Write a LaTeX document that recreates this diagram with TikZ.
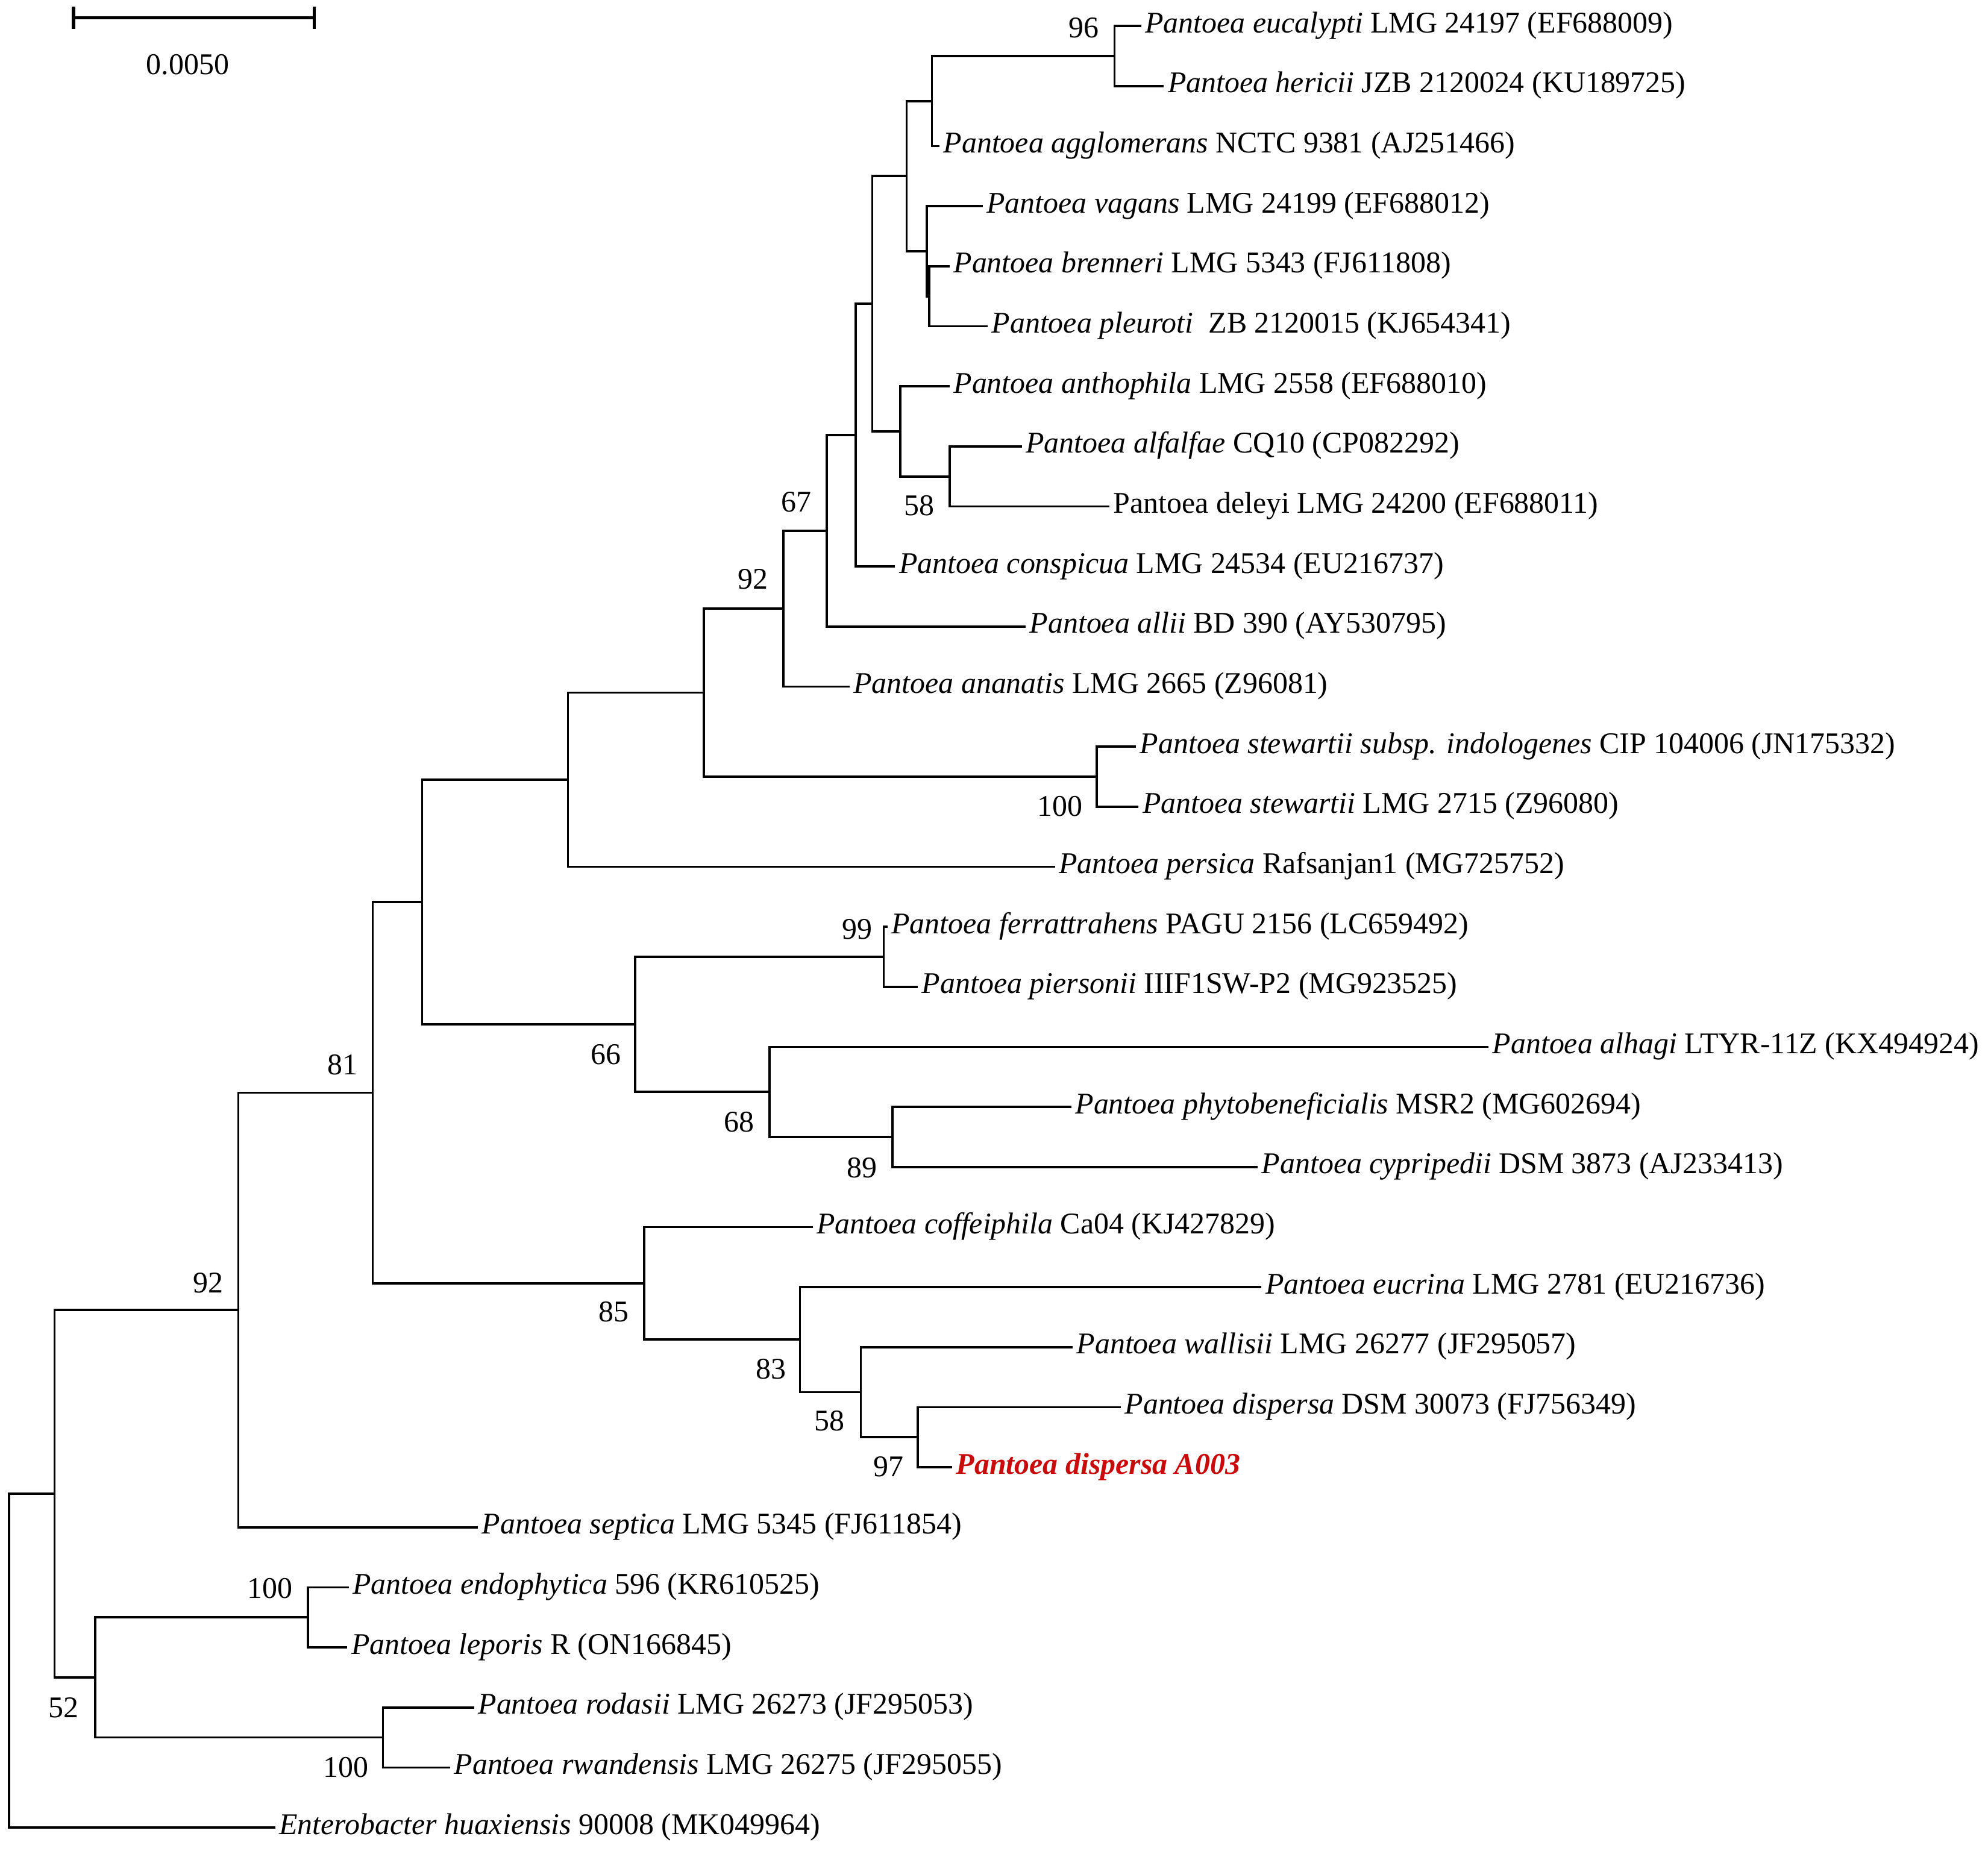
\documentclass[tikz,border=0pt]{standalone}
\usepackage{fontspec}
\setmainfont{Liberation Serif}
\usepackage{xcolor}
\usepackage{tikz}
\usetikzlibrary{positioning}
\definecolor{isolatered}{RGB}{200,12,12}

\begin{document}
\begin{tikzpicture}[x=0.02cm, y=-0.02cm, every node/.style={font=\fontsize{13.5}{16}\selectfont}]
\tikzset{
  leaf/.style={anchor=west, inner xsep=1.6pt, inner ysep=0pt, text height=9pt, text depth=3pt},
  boot/.style={inner sep=0pt, anchor=center},
  branch/.style={line width=1pt, line join=miter},
  scalebar/.style={line width=1.4pt}
}
\useasboundingbox (0,0) rectangle (1568,1460);

\coordinate (sbL) at (58,14);
\coordinate (sbR) at (248,14);
\draw [scalebar] (sbL) -- (sbR);
\draw [scalebar] ([yshift=5pt]sbL) -- ([yshift=-5pt]sbL);
\draw [scalebar] ([yshift=5pt]sbR) -- ([yshift=-5pt]sbR);
\node (sblabel) [boot] at (148,51) {0.0050};

\node (eucalypti) [leaf] at (900,20.5) {\textit{Pantoea eucalypti} LMG 24197 (EF688009)};
\node (hericii) [leaf] at (918,67.9) {\textit{Pantoea hericii} JZB 2120024 (KU189725)};
\node (agglomerans) [leaf] at (741,115.2) {\textit{Pantoea agglomerans} NCTC 9381 (AJ251466)};
\node (vagans) [leaf] at (775,162.6) {\textit{Pantoea vagans} LMG 24199 (EF688012)};
\node (brenneri) [leaf] at (749,210.0) {\textit{Pantoea brenneri} LMG 5343 (FJ611808)};
\node (pleuroti) [leaf] at (779,257.4) {\textit{Pantoea pleuroti}\ \ ZB 2120015 (KJ654341)};
\node (anthophila) [leaf] at (749,304.7) {\textit{Pantoea anthophila} LMG 2558 (EF688010)};
\node (alfalfae) [leaf] at (806,352.1) {\textit{Pantoea alfalfae} CQ10 (CP082292)};
\node (deleyi) [leaf] at (875,399.5) {Pantoea deleyi LMG 24200 (EF688011)};
\node (conspicua) [leaf] at (706,446.8) {\textit{Pantoea conspicua} LMG 24534 (EU216737)};
\node (allii) [leaf] at (809,494.2) {\textit{Pantoea allii} BD 390 (AY530795)};
\node (ananatis) [leaf] at (670,541.6) {\textit{Pantoea ananatis} LMG 2665 (Z96081)};
\node (indologenes) [leaf] at (896,588.9) {\textit{Pantoea stewartii subsp. indologenes} CIP 104006 (JN175332)};
\node (stewartii) [leaf] at (898,636.3) {\textit{Pantoea stewartii} LMG 2715 (Z96080)};
\node (persica) [leaf] at (832,683.7) {\textit{Pantoea persica} Rafsanjan1 (MG725752)};
\node (ferrattrahens) [leaf] at (700,731.1) {\textit{Pantoea ferrattrahens} PAGU 2156 (LC659492)};
\node (piersonii) [leaf] at (724,778.4) {\textit{Pantoea piersonii} IIIF1SW-P2 (MG923525)};
\node (alhagi) [leaf] at (1174,825.8) {\textit{Pantoea alhagi} LTYR-11Z (KX494924)};
\node (phytobeneficialis) [leaf] at (845,873.2) {\textit{Pantoea phytobeneficialis} MSR2 (MG602694)};
\node (cypripedii) [leaf] at (992,920.5) {\textit{Pantoea cypripedii} DSM 3873 (AJ233413)};
\node (coffeiphila) [leaf] at (641,967.9) {\textit{Pantoea coffeiphila} Ca04 (KJ427829)};
\node (eucrina) [leaf] at (995,1015.3) {\textit{Pantoea eucrina} LMG 2781 (EU216736)};
\node (wallisii) [leaf] at (846,1062.6) {\textit{Pantoea wallisii} LMG 26277 (JF295057)};
\node (dispersa) [leaf] at (884,1110.0) {\textit{Pantoea dispersa} DSM 30073 (FJ756349)};
\node (isolate) [leaf, text=isolatered] at (751,1157.4) {\textbf{\textit{Pantoea dispersa A003}}};
\node (septica) [leaf] at (377,1204.8) {\textit{Pantoea septica} LMG 5345 (FJ611854)};
\node (endophytica) [leaf] at (275,1252.1) {\textit{Pantoea endophytica} 596 (KR610525)};
\node (leporis) [leaf] at (274,1299.5) {\textit{Pantoea leporis} R (ON166845)};
\node (rodasii) [leaf] at (374,1346.9) {\textit{Pantoea rodasii} LMG 26273 (JF295053)};
\node (rwandensis) [leaf] at (355,1394.2) {\textit{Pantoea rwandensis} LMG 26275 (JF295055)};
\node (huaxiensis) [leaf] at (217,1441.6) {\textit{Enterobacter huaxiensis} 90008 (MK049964)};

\coordinate (eucHer) at (879,44.2);
\coordinate (aggloGrp) at (735,79.7);
\coordinate (brePle) at (733,233.7);
\coordinate (vagGrp) at (731,198.15);
\coordinate (aggloClade) at (715,138.9);
\coordinate (alfDel) at (749,375.8);
\coordinate (anthoGrp) at (710,340.25);
\coordinate (upper) at (688,239.6);
\coordinate (conspGrp) at (675,343.2);
\coordinate (alliiGrp) at (652,418.7);
\coordinate (ananGrp) at (618,480.15);
\coordinate (stewGrp) at (865,612.6);
\coordinate (ananStew) at (555,546.4);
\coordinate (persicaGrp) at (448,615.05);
\coordinate (ferPie) at (697,754.75);
\coordinate (phyCyp) at (704,896.85);
\coordinate (alhagiGrp) at (607,861.3);
\coordinate (ferGrp) at (501,808.0);
\coordinate (mid) at (333,711.5);
\coordinate (dispGrp) at (724,1133.7);
\coordinate (wallGrp) at (679,1098.15);
\coordinate (eucrGrp) at (631,1056.7);
\coordinate (coffGrp) at (508,1012.3);
\coordinate (core) at (294,861.9);
\coordinate (septicaGrp) at (188,1033.35);
\coordinate (endLep) at (243,1275.8);
\coordinate (rodRwa) at (302,1370.55);
\coordinate (basal) at (75,1323.2);
\coordinate (ingroup) at (43,1178.3);
\coordinate (root) at (7,1309.95);

\draw [branch] (eucalypti.west) -| (eucHer) |- (hericii.west);
\draw [branch] (eucHer) -| (aggloGrp) |- (agglomerans.west);
\draw [branch] (brenneri.west) -| (brePle) |- (pleuroti.west);
\draw [branch] (vagans.west) -| (vagGrp) |- (brePle);
\draw [branch] (aggloGrp) -| (aggloClade) |- (vagGrp);
\draw [branch] (alfalfae.west) -| (alfDel) |- (deleyi.west);
\draw [branch] (anthophila.west) -| (anthoGrp) |- (alfDel);
\draw [branch] (aggloClade) -| (upper) |- (anthoGrp);
\draw [branch] (upper) -| (conspGrp) |- (conspicua.west);
\draw [branch] (conspGrp) -| (alliiGrp) |- (allii.west);
\draw [branch] (alliiGrp) -| (ananGrp) |- (ananatis.west);
\draw [branch] (indologenes.west) -| (stewGrp) |- (stewartii.west);
\draw [branch] (ananGrp) -| (ananStew) |- (stewGrp);
\draw [branch] (ananStew) -| (persicaGrp) |- (persica.west);
\draw [branch] (ferrattrahens.west) -| (ferPie) |- (piersonii.west);
\draw [branch] (phytobeneficialis.west) -| (phyCyp) |- (cypripedii.west);
\draw [branch] (alhagi.west) -| (alhagiGrp) |- (phyCyp);
\draw [branch] (ferPie) -| (ferGrp) |- (alhagiGrp);
\draw [branch] (persicaGrp) -| (mid) |- (ferGrp);
\draw [branch] (dispersa.west) -| (dispGrp) |- (isolate.west);
\draw [branch] (wallisii.west) -| (wallGrp) |- (dispGrp);
\draw [branch] (eucrina.west) -| (eucrGrp) |- (wallGrp);
\draw [branch] (coffeiphila.west) -| (coffGrp) |- (eucrGrp);
\draw [branch] (mid) -| (core) |- (coffGrp);
\draw [branch] (core) -| (septicaGrp) |- (septica.west);
\draw [branch] (endophytica.west) -| (endLep) |- (leporis.west);
\draw [branch] (rodasii.west) -| (rodRwa) |- (rwandensis.west);
\draw [branch] (endLep) -| (basal) |- (rodRwa);
\draw [branch] (septicaGrp) -| (ingroup) |- (basal);
\draw [branch] (ingroup) -| (root) |- (huaxiensis.west);

\node (bEucHer) [boot] at (855,22) {96};
\node (bAlfDel) [boot] at (725,399) {58};
\node (bAllii) [boot] at (628,396) {67};
\node (bAnan) [boot] at (594,457) {92};
\node (bStew) [boot] at (836,636) {100};
\node (bFerPie) [boot] at (676,733) {99};
\node (bFerGrp) [boot] at (478,832) {66};
\node (bAlhagi) [boot] at (583,885) {68};
\node (bPhyCyp) [boot] at (680,921) {89};
\node (bCoff) [boot] at (484,1035) {85};
\node (bEucr) [boot] at (608,1080) {83};
\node (bWall) [boot] at (654,1121) {58};
\node (bDisp) [boot] at (701,1157) {97};
\node (bCore) [boot] at (270,840) {81};
\node (bSeptica) [boot] at (164,1012) {92};
\node (bEndLep) [boot] at (213,1253) {100};
\node (bBasal) [boot] at (50,1347) {52};
\node (bRodRwa) [boot] at (273,1394) {100};
\end{tikzpicture}
\end{document}
